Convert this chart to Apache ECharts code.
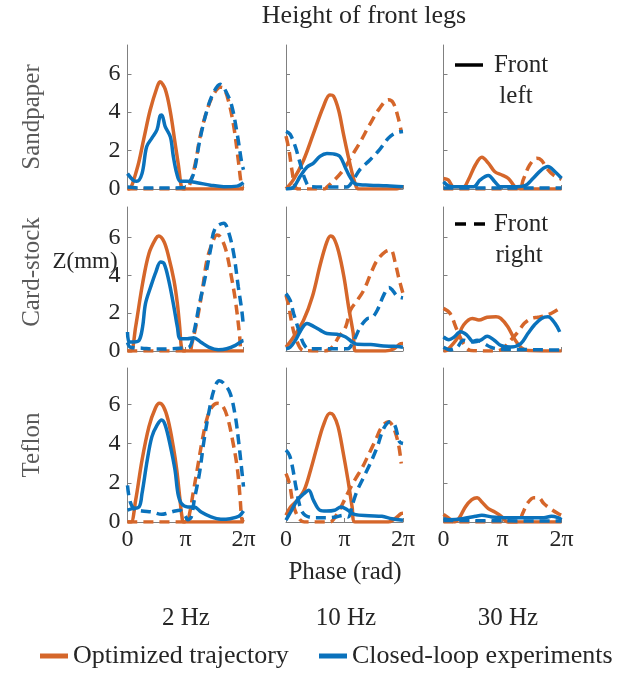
<!DOCTYPE html>
<html><head><meta charset="utf-8">
<script src="https://cdn.jsdelivr.net/npm/echarts@6.0.0/dist/echarts.min.js"></script>
<style>html,body{margin:0;padding:0;background:#fff}#c{width:617px;height:674px}</style>
</head><body><div id="c"></div>
<script>
// phase in units of pi, Z in mm
const rowNames = ['Sandpaper', 'Card-stock', 'Teflon'];
const colNames = ['2 Hz', '10 Hz', '30 Hz'];
const xTickValues = [0, 1, 2];
const xTickLabels = ['0', 'π', '2π'];
const yTickValues = [0, 2, 4, 6];
const yMaxByRow = [7.5, 7.6, 7.85];

// Sandpaper 2 Hz
const s2_optL = [[0,0],[0.02,0],[0.16,1.0],[0.28,2.6],[0.39,4.1],[0.51,5.3],[0.56,5.58],[0.65,5.2],[0.74,4.0],[0.82,2.4],[0.88,1.2],[0.93,0.1],[0.97,0],[2,0]];
const s2_optR = [[0,0],[1.0,0],[1.08,0.3],[1.17,1.35],[1.25,2.7],[1.37,4.1],[1.48,4.9],[1.6,5.3],[1.66,5.25],[1.74,4.6],[1.83,3.3],[1.91,1.5],[1.97,0.1],[2,0]];
const s2_expL = [[0,0.8],[0.1,0.45],[0.16,0.4],[0.25,0.8],[0.33,2.2],[0.42,2.65],[0.51,3.1],[0.56,3.8],[0.59,3.85],[0.65,3.25],[0.74,2.7],[0.79,1.7],[0.85,0.8],[0.91,0.4],[1.02,0.4],[1.2,0.33],[1.43,0.2],[1.66,0.12],[1.89,0.15],[2,0.33]];
const s2_expR = [[0,0.1],[0.2,0.05],[0.6,0.05],[1.0,0.08],[1.05,0.25],[1.14,0.8],[1.25,2.6],[1.37,4.1],[1.48,5.0],[1.6,5.45],[1.71,5.0],[1.8,4.3],[1.89,2.9],[1.97,1.35],[2,1.0]];
// Sandpaper 10 Hz
const s10_optL = [[0,0],[0.13,0.5],[0.3,1.5],[0.47,2.9],[0.64,4.3],[0.75,4.9],[0.81,4.85],[0.9,4.1],[0.98,2.9],[1.09,1.35],[1.18,0.3],[1.24,0],[1.89,0],[1.97,0.1],[2,0.1]];
const s10_optR = [[0,2.75],[0.05,2.05],[0.1,1.0],[0.16,0.1],[0.22,0],[0.65,0],[0.7,0.1],[0.84,0.5],[0.98,1.0],[1.12,1.7],[1.26,2.4],[1.43,3.35],[1.6,4.2],[1.75,4.65],[1.83,4.5],[1.91,3.8],[1.97,3.0]];
const s10_expL = [[0,0],[0.13,0.1],[0.24,0.65],[0.36,1.15],[0.47,1.35],[0.58,1.7],[0.7,1.85],[0.81,1.83],[0.92,1.7],[1.01,1.15],[1.09,0.65],[1.2,0.25],[1.43,0.2],[1.72,0.17],[2,0.12]];
const s10_expR = [[0,3.0],[0.07,2.85],[0.16,2.2],[0.24,1.35],[0.33,0.47],[0.41,0.12],[0.7,0.1],[1.04,0.1],[1.15,0.47],[1.26,1.0],[1.43,1.5],[1.6,2.05],[1.75,2.65],[1.86,2.9],[2,3.0]];
// Sandpaper 30 Hz
const s30_optL = [[0,0.55],[0.08,0.47],[0.17,0.12],[0.34,0.12],[0.42,0.47],[0.54,1.25],[0.65,1.65],[0.76,1.35],[0.87,0.9],[0.99,0.73],[1.1,0.55],[1.21,0.12],[1.3,0],[2,0]];
const s30_optR = [[0,0],[1.28,0],[1.35,0.47],[1.46,1.25],[1.58,1.6],[1.66,1.5],[1.75,1.08],[1.86,0.73],[1.97,0.55],[2,0.5]];
const s30_expL = [[0,0.38],[0.08,0.17],[0.17,0.12],[0.51,0.12],[0.62,0.47],[0.76,0.7],[0.87,0.38],[0.96,0.12],[1.24,0.12],[1.38,0.17],[1.52,0.56],[1.66,1.0],[1.77,1.17],[1.89,0.9],[2,0.56]];
const s30_expR = [[0,0.05],[1,0.05],[2,0.05]];
// Card-stock 2 Hz
const c2_optL = [[0,0],[0.06,0],[0.14,1.27],[0.26,3.56],[0.37,5.15],[0.49,5.94],[0.54,6.07],[0.63,5.77],[0.71,4.97],[0.8,3.74],[0.86,2.5],[0.9,1.27],[0.93,0.2],[0.97,0],[2,0]];
const c2_optR = [[0,0],[1.06,0],[1.11,0.39],[1.2,1.62],[1.29,3.21],[1.37,4.8],[1.46,5.68],[1.54,6.12],[1.6,6.03],[1.69,5.4],[1.77,4.27],[1.86,2.68],[1.93,0.92],[1.96,0.03],[2,0]];
const c2_expL = [[0,1.0],[0.03,0.48],[0.11,0.48],[0.2,0.56],[0.26,1.27],[0.31,2.5],[0.4,3.39],[0.49,4.18],[0.57,4.7],[0.63,4.62],[0.71,3.74],[0.8,2.33],[0.86,1.27],[0.91,0.65],[1.03,0.65],[1.14,0.7],[1.26,0.48],[1.4,0.21],[1.57,0.07],[1.71,0.12],[1.86,0.3],[1.98,0.53],[2,0.55]];
const c2_expR = [[0,0.45],[0.05,0.2],[0.25,0.15],[0.5,0.1],[0.75,0.12],[0.9,0.15],[1.06,0.2],[1.14,0.92],[1.23,2.33],[1.34,3.9],[1.43,5.33],[1.51,6.47],[1.66,6.74],[1.74,6.3],[1.83,5.15],[1.91,3.39],[1.97,2.15],[2,1.27]];
// Card-stock 10 Hz
const c10_optL = [[0,0.2],[0.13,0.74],[0.3,1.62],[0.45,2.86],[0.59,4.62],[0.7,5.77],[0.76,6.07],[0.82,5.94],[0.9,5.24],[0.99,3.92],[1.07,2.33],[1.15,0.92],[1.19,0],[1.7,0],[1.85,0.12],[1.96,0.39],[2,0.4]];
const c10_optR = [[0,2.95],[0.05,2.33],[0.1,1.45],[0.16,0.74],[0.3,0.03],[0.67,0],[0.79,0.2],[0.9,0.74],[1.02,1.27],[1.1,2.15],[1.22,2.68],[1.33,3.21],[1.45,4.09],[1.56,4.8],[1.7,5.24],[1.79,5.33],[1.87,4.62],[1.93,3.83],[2,3.03]];
const c10_expL = [[0,0.12],[0.07,0.2],[0.16,0.56],[0.27,1.18],[0.36,1.45],[0.47,1.3],[0.59,1.09],[0.7,0.92],[0.87,0.88],[1.02,0.74],[1.13,0.48],[1.22,0.35],[1.45,0.34],[1.67,0.26],[1.85,0.25],[2,0.2]];
const c10_expR = [[0,3.03],[0.07,2.68],[0.13,1.98],[0.22,1.09],[0.3,0.39],[0.39,0.12],[0.7,0.12],[1.05,0.12],[1.16,0.56],[1.27,1.27],[1.39,1.71],[1.47,1.76],[1.56,2.15],[1.67,2.95],[1.76,3.35],[1.82,3.21],[1.9,2.9],[2,2.8]];
// Card-stock 30 Hz
const c30_optL = [[0,0],[0.03,0],[0.11,0.2],[0.23,0.65],[0.34,1.37],[0.49,1.72],[0.6,1.63],[0.74,1.78],[0.89,1.81],[0.97,1.72],[1.09,1.28],[1.2,0.65],[1.31,0.2],[1.43,0.03],[2,0]];
const c30_optR = [[0,2.25],[0.11,1.99],[0.23,1.1],[0.34,0.39],[0.46,0.03],[0.91,0],[1.03,0.2],[1.14,0.57],[1.26,1.0],[1.37,1.46],[1.49,1.72],[1.6,1.78],[1.71,1.85],[1.83,1.99],[1.97,2.25],[2,2.3]];
const c30_expL = [[0,0.75],[0.09,0.6],[0.17,0.71],[0.29,1.01],[0.4,0.83],[0.51,0.48],[0.63,0.57],[0.74,0.78],[0.86,0.57],[0.97,0.3],[1.14,0.21],[1.31,0.39],[1.43,0.92],[1.54,1.37],[1.66,1.72],[1.77,1.81],[1.89,1.46],[1.97,1.01]];
const c30_expR = [[0,0.2],[0.11,0.07],[0.23,0.2],[0.34,0.57],[0.46,0.48],[0.57,0.57],[0.69,0.39],[0.8,0.2],[0.91,0.12],[1.14,0.09],[2,0.05]];
// Teflon 2 Hz
const t2_optL = [[0,0],[0.06,0],[0.14,1.1],[0.25,3.15],[0.37,4.86],[0.48,5.8],[0.55,6.05],[0.62,5.88],[0.7,5.2],[0.79,3.83],[0.85,2.64],[0.9,1.28],[0.94,0.26],[0.97,0],[2,0]];
const t2_optR = [[0,0],[1.02,0],[1.07,0.43],[1.13,1.45],[1.21,2.81],[1.3,4.34],[1.38,5.37],[1.46,5.88],[1.55,6.05],[1.63,5.96],[1.72,5.37],[1.8,4.34],[1.89,2.81],[1.94,1.28],[1.97,0.17],[2,0]];
const t2_expL = [[0,0.6],[0.08,0.68],[0.2,0.77],[0.25,1.45],[0.34,3.15],[0.42,4.34],[0.51,4.94],[0.59,5.2],[0.65,4.94],[0.73,4.0],[0.82,2.64],[0.87,1.45],[0.93,0.94],[1.04,0.77],[1.15,0.77],[1.27,0.51],[1.44,0.26],[1.61,0.14],[1.77,0.17],[1.92,0.29],[2,0.56]];
const t2_expR = [[0,1.87],[0.04,1.1],[0.11,0.68],[0.25,0.56],[0.42,0.51],[0.59,0.39],[0.7,0.46],[0.82,0.56],[0.9,0.6],[0.99,0.34],[1.04,0.12],[1.1,0.26],[1.15,1.1],[1.24,2.47],[1.32,4.17],[1.41,5.7],[1.49,6.73],[1.58,7.2],[1.66,7.07],[1.77,6.56],[1.86,5.37],[1.92,4.0],[1.97,2.64],[2,1.8]];
// Teflon 10 Hz
const t10_optL = [[0,0.34],[0.08,0.77],[0.19,1.1],[0.31,1.62],[0.42,2.64],[0.53,3.83],[0.64,4.94],[0.75,5.54],[0.81,5.45],[0.89,4.86],[0.97,3.66],[1.06,2.13],[1.13,0.77],[1.18,0],[1.75,0],[1.86,0.17],[1.97,0.43],[2,0.45]];
const t10_optR = [[0,2.47],[0.06,1.96],[0.11,1.1],[0.19,0.34],[0.31,0],[0.75,0],[0.86,0.34],[0.97,0.94],[1.08,1.62],[1.19,2.21],[1.31,2.81],[1.42,3.49],[1.53,4.17],[1.64,4.86],[1.75,5.11],[1.83,4.86],[1.92,4.0],[1.97,2.98]];
const t10_expL = [[0,0.09],[0.08,0.51],[0.19,1.1],[0.31,1.45],[0.39,1.62],[0.47,1.1],[0.58,0.6],[0.69,0.56],[0.83,0.6],[0.94,0.77],[1.06,0.6],[1.17,0.39],[1.42,0.32],[1.64,0.29],[1.81,0.17],[2,0.09]];
const t10_expR = [[0,3.66],[0.06,3.4],[0.11,2.81],[0.17,1.79],[0.25,0.68],[0.33,0.34],[0.47,0.22],[0.69,0.22],[0.86,0.26],[0.97,0.34],[1.06,0.26],[1.14,0.94],[1.22,1.62],[1.33,2.3],[1.44,2.98],[1.56,3.83],[1.67,4.77],[1.78,5.11],[1.86,4.94],[1.94,4.09],[2,4.0]];
// Teflon 30 Hz
const t30_optL = [[0,0.39],[0.1,0.17],[0.18,0],[0.26,0.17],[0.37,0.77],[0.48,1.14],[0.57,1.24],[0.65,1.02],[0.76,0.68],[0.87,0.51],[0.98,0.29],[1.09,0],[2,0]];
const t30_optR = [[0,0],[1.26,0],[1.34,0.43],[1.42,0.94],[1.53,1.24],[1.61,1.24],[1.7,0.94],[1.81,0.68],[1.94,0.43],[2,0.34]];
const t30_expL = [[0,0.17],[0.1,0.12],[0.32,0.17],[0.54,0.29],[0.65,0.34],[0.82,0.26],[1.04,0.22],[1.48,0.22],[1.7,0.22],[1.83,0.29],[1.94,0.22],[2,0.12]];
const t30_expR = [[0,0.08],[1,0.06],[2,0.05]];

const panels = [
  [s2_optL, s2_optR, s2_expL, s2_expR], [s10_optL, s10_optR, s10_expL, s10_expR], [s30_optL, s30_optR, s30_expL, s30_expR],
  [c2_optL, c2_optR, c2_expL, c2_expR], [c10_optL, c10_optR, c10_expL, c10_expR], [c30_optL, c30_optR, c30_expL, c30_expR],
  [t2_optL, t2_optR, t2_expL, t2_expR], [t10_optL, t10_optR, t10_expL, t10_expR], [t30_optL, t30_optR, t30_expL, t30_expR]
];

const ORANGE = '#D5662A', BLUE = '#0A72BC';
const FONT = "'Liberation Serif', 'Times New Roman', serif";
const TXT = '#262626', AX = '#808080';
const colLeft = [127.5, 286, 443.5], colW = [116, 117, 118];
const rowTop = [45, 207, 368], rowH = [144, 144, 154];
const LW = 3.5, DASH = [10, 6];

const grids = [], xAxes = [], yAxes = [], series = [];
panels.forEach((p, i) => {
  const r = Math.floor(i / 3), c = i % 3;
  grids.push({ left: colLeft[c], top: rowTop[r], width: colW[c], height: rowH[r] });
  xAxes.push({
    type: 'value', gridIndex: i, min: 0, max: 2, interval: 1,
    axisLine: { show: true, onZero: false, lineStyle: { color: AX, width: 1 } },
    axisTick: { show: true, inside: true, length: 4, lineStyle: { color: AX } },
    axisLabel: { show: r === 2, margin: 6, fontFamily: FONT, fontSize: 24, color: TXT,
      customValues: xTickValues, formatter: v => xTickLabels[xTickValues.indexOf(Math.round(v))] },
    splitLine: { show: false }
  });
  yAxes.push({
    type: 'value', gridIndex: i, min: 0, max: yMaxByRow[r], interval: 2,
    axisLine: { show: true, lineStyle: { color: AX, width: 1 } },
    axisTick: { show: true, inside: true, length: 4, customValues: yTickValues, lineStyle: { color: AX } },
    axisLabel: { show: c === 0, margin: 7, fontFamily: FONT, fontSize: 24, color: TXT, customValues: yTickValues },
    splitLine: { show: false }
  });
  const specs = [
    { d: p[0], name: 'Optimized trajectory', color: ORANGE, type: 'solid' },
    { d: p[1], name: 'Optimized trajectory', color: ORANGE, type: DASH },
    { d: p[2], name: 'Closed-loop experiments', color: BLUE, type: 'solid' },
    { d: p[3], name: 'Closed-loop experiments', color: BLUE, type: DASH }
  ];
  specs.forEach(s => series.push({
    type: 'line', name: s.name, xAxisIndex: i, yAxisIndex: i, data: s.d,
    smooth: 0.35, showSymbol: false, symbol: 'none', silent: true, clip: true,
    itemStyle: { color: s.color },
    lineStyle: { color: s.color, width: LW, type: s.type, cap: 'butt' }
  }));
});

const text = (x, y, t, extra) => Object.assign({ type: 'text', x, y, style: Object.assign({ text: t, font: '25px ' + FONT, fill: TXT, textAlign: 'center', textVerticalAlign: 'middle' }, extra || {}) });
const rowLabelY = [117, 272, 445];
const colLabelX = [186, 346, 508];
const graphics = [
  text(364, 16, 'Height of front legs', { font: '26px ' + FONT }),
  text(85, 262, 'Z(mm)', { font: '23px ' + FONT }),
  text(345, 572, 'Phase (rad)'),
  { type: 'line', shape: { x1: 455, y1: 65, x2: 483, y2: 65 }, style: { stroke: '#000', lineWidth: 3.5 } },
  text(521, 65, 'Front'), text(516, 96, 'left'),
  { type: 'line', shape: { x1: 455, y1: 224, x2: 486, y2: 224 }, style: { stroke: '#000', lineWidth: 3.5, lineDash: [11, 8] } },
  text(521, 224, 'Front'), text(519, 255, 'right')
];
rowNames.forEach((n, k) => graphics.push({ type: 'text', x: 32, y: rowLabelY[k], rotation: Math.PI / 2,
  style: { text: n, font: '25px ' + FONT, fill: '#5a5a5a', textAlign: 'center', textVerticalAlign: 'middle' } }));
colNames.forEach((n, k) => graphics.push(text(colLabelX[k], 618, n)));

const legendBase = { icon: 'rect', itemWidth: 28, itemHeight: 5, padding: 0, selectedMode: false,
  textStyle: { fontFamily: FONT, fontSize: 26, color: TXT } };

const chart = echarts.init(document.getElementById('c'), null, { renderer: 'canvas' });
chart.setOption({
  animation: false,
  backgroundColor: '#fff',
  grid: grids, xAxis: xAxes, yAxis: yAxes, series,
  legend: [
    Object.assign({ left: 40, top: 643, data: ['Optimized trajectory'] }, legendBase),
    Object.assign({ left: 319, top: 643, data: ['Closed-loop experiments'] }, legendBase)
  ],
  graphic: graphics
});
</script></body></html>
